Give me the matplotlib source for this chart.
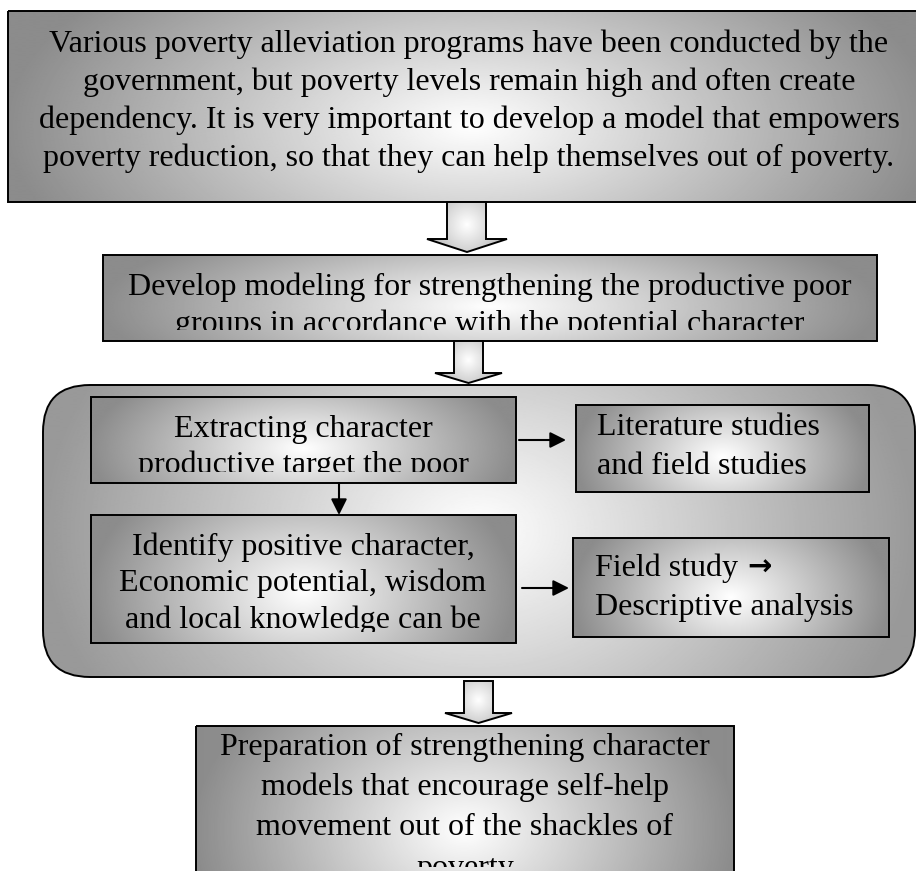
import numpy as np
import matplotlib.pyplot as plt
from matplotlib.patches import Rectangle, FancyBboxPatch, Polygon
from matplotlib.transforms import Bbox, TransformedBbox

W, H = 916, 871

# texts of the flow chart
top_lines = ["Various poverty alleviation programs have been conducted by the",
             "government, but poverty levels remain high and often create",
             "dependency. It is very important to develop a model that empowers",
             "poverty reduction, so that they can help themselves out of poverty."]
develop_lines = ["Develop modeling for strengthening the productive poor",
                 "groups in accordance with the potential character"]
extract_lines = ["Extracting character", "productive target the poor"]
identify_lines = ["Identify positive character,", "Economic potential, wisdom",
                  "and local knowledge can be"]
literature_lines = ["Literature studies", "and field studies"]
field_lines = ["Field study", "Descriptive analysis"]
field_arrow = "\u2192"
prep_lines = ["Preparation of strengthening character",
              "models that encourage self-help",
              "movement out of the shackles of", "poverty"]

FONT = ['Liberation Serif', 'DejaVu Serif']
FS = 23

fig = plt.figure(figsize=(W / 100, H / 100), dpi=100)
ax = fig.add_axes([0, 0, 1, 1])
ax.set_xlim(0, W)
ax.set_ylim(H, 0)


def shade(patch, x0, y0, x1, y1, edge=0.55, cx=0.5, cy=0.6, ky=0.45, z=1):
    # white centre fading to grey at the edges, clipped to the patch
    nx, ny = int(x1 - x0) + 1, int(y1 - y0) + 1
    xx, yy = np.meshgrid(np.linspace(0, 1, nx), np.linspace(0, 1, ny))
    d = np.sqrt(((xx - cx) / 0.5) ** 2 + (ky * (yy - cy) / 0.5) ** 2)
    d = np.clip(d, 0, 1)
    v = 1 - (1 - edge) * d
    im = ax.imshow(v, cmap='gray', vmin=0, vmax=1, extent=(x0, x1, y1, y0),
                   origin='upper', aspect='auto', interpolation='bilinear', zorder=z - 0.1)
    im.set_clip_path(patch)


def box(x0, y0, x1, y1, z=3, edge=0.55):
    p = Rectangle((x0, y0), x1 - x0, y1 - y0, facecolor='none', edgecolor='black',
                  lw=1.4, zorder=z)
    ax.add_patch(p)
    shade(p, x0, y0, x1, y1, edge=edge, z=z)


def lines(txt, x, baselines, clip, ha='center'):
    cx0, cy0, cx1, cy1 = clip
    cb = TransformedBbox(Bbox.from_extents(cx0, cy0, cx1, cy1), ax.transData)
    out = []
    for s, b in zip(txt, baselines):
        t = ax.text(x, b, s, ha=ha, va='baseline', fontsize=FS, family=FONT,
                    color='black', zorder=6, clip_on=True)
        t.set_clip_box(cb)
        out.append(t)
    return out


def block_arrow(sl, sr, st, hy, hl, hr, ty):
    tx = (hl + hr) / 2
    pts = [(sl, st), (sr, st), (sr, hy), (hr, hy), (tx, ty), (hl, hy), (sl, hy)]
    p = Polygon(pts, closed=True, facecolor='none', edgecolor='black', lw=1.4, zorder=4)
    ax.add_patch(p)
    shade(p, hl, st, hr, ty, edge=0.72, cy=0.45, ky=0.6, z=4)


def small_arrow(x0, y0, x1, y1):
    ax.annotate('', xy=(x1, y1), xytext=(x0, y0),
                arrowprops=dict(arrowstyle='-|>', color='black', lw=1.5,
                                mutation_scale=24, shrinkA=0, shrinkB=0), zorder=5)


# top box
box(8, 11, 935, 202)
lines(top_lines, 469, [52, 90, 128, 166], (8, 11, 935, 202))
block_arrow(447, 486, 202, 239, 427, 507, 252)

# second box
box(103, 255, 877, 341)
lines(develop_lines, 490, [295, 332], (103, 255, 877, 330))
block_arrow(454, 483, 341, 373, 435, 502, 383)

# rounded container
cont = FancyBboxPatch((43, 385), 872, 292, boxstyle='round,pad=0,rounding_size=47',
                      facecolor='none', edgecolor='black', lw=1.4, zorder=1)
ax.add_patch(cont)
shade(cont, 43, 385, 915, 677, edge=0.6, cy=0.5, z=1)

box(91, 397, 516, 483)
lines(extract_lines, 303, [437, 473], (91, 397, 516, 472))
box(91, 515, 516, 643)
lines(identify_lines, 303, [555, 591, 628], (91, 515, 516, 632))
box(576, 405, 869, 492)
lines(literature_lines, 597, [435, 474], (576, 405, 869, 492), ha='left')
box(573, 538, 889, 637)
ft = lines(field_lines, 595, [576, 615], (573, 538, 889, 637), ha='left')

# heavier arrow glyph after "Field study"
fig.canvas.draw()
ext = ft[0].get_window_extent().transformed(ax.transData.inverted())
ax.text(ext.x1 + 9, 576, field_arrow, ha='left', va='baseline', fontsize=FS - 2,
        family=['DejaVu Sans'], weight='bold', color='black', zorder=6)

small_arrow(519, 440, 566, 440)
small_arrow(522, 588, 569, 588)
small_arrow(339, 483, 339, 515)

block_arrow(464, 493, 681, 713, 445, 512, 723)

# bottom box
box(196, 726, 734, 900)
lines(prep_lines, 465, [755, 795, 835, 876], (196, 726, 734, 867))

ax.set_xlim(0, W)
ax.set_ylim(H, 0)
ax.axis('off')
fig.savefig('out.png', dpi=100)
